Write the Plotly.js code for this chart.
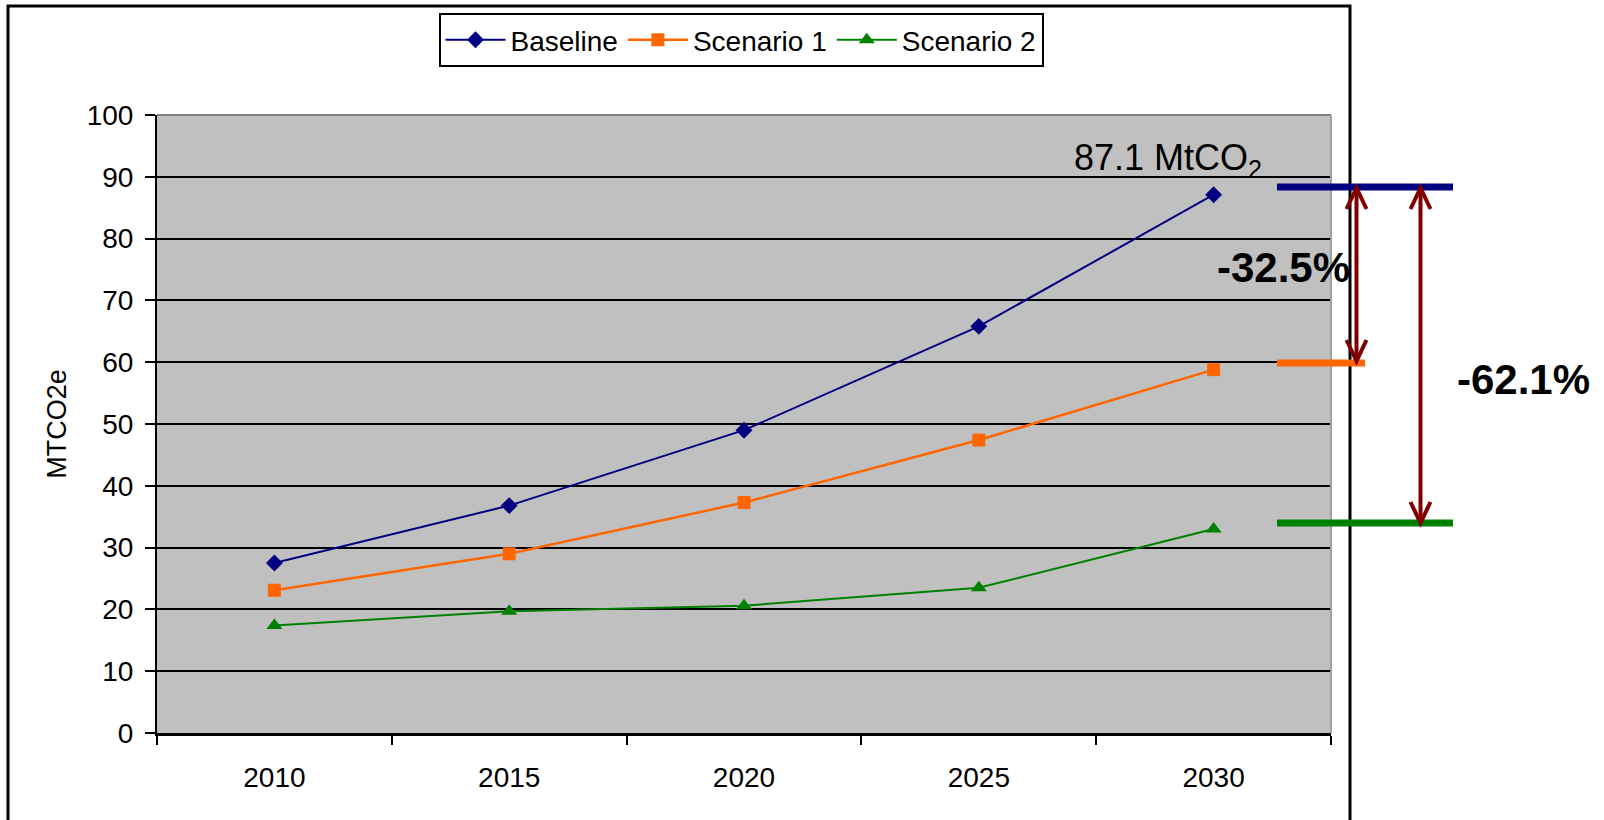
<!DOCTYPE html>
<html>
<head>
<meta charset="utf-8">
<script src="https://cdn.plot.ly/plotly-3.0.1.min.js"></script>
<style>html,body{margin:0;padding:0;background:#fff;}#chart{width:1604px;height:820px;}</style>
</head>
<body>
<div id="chart"></div>
<script>
const years = ['2010', '2015', '2020', '2025', '2030'];
const baseline = [27.5, 36.8, 49.0, 65.8, 87.1];
const scenario1 = [23.1, 29.0, 37.3, 47.4, 58.8];
const scenario2 = [17.4, 19.7, 20.6, 23.5, 33.0];
const seriesNames = ['Baseline', 'Scenario 1', 'Scenario 2'];
const yTicks = [0, 10, 20, 30, 40, 50, 60, 70, 80, 90, 100];
const endLabel = '87.1 MtCO<sub>2</sub>';
const changeLabels = ['-32.5%', '-62.1%'];

const W = 1604, H = 820;
const L = 157, R = 1331, T = 115, B = 733;
const px = x => (x - L) / (R - L);
const py = y => (B - y) / (B - T);
const FONT = 'Liberation Sans, Arial, sans-serif';

const traces = [
  {x: years, y: baseline, name: seriesNames[0], type: 'scatter', mode: 'lines+markers',
   line: {color: '#000080', width: 2}, marker: {symbol: 'diamond', size: 13, color: '#000080'}},
  {x: years, y: scenario1, name: seriesNames[1], type: 'scatter', mode: 'lines+markers',
   line: {color: '#FF6600', width: 2.5}, marker: {symbol: 'square', size: 13, color: '#FF6600'}},
  {x: years, y: scenario2, name: seriesNames[2], type: 'scatter', mode: 'lines+markers',
   line: {color: '#008000', width: 2}, marker: {symbol: 'triangle-up', size: 14, color: '#008000'}}
];

const red = '#800000';
function arrow(x, y1, y2) {
  const hw = 10, hl = 21;
  return [
    {type: 'line', xref: 'paper', yref: 'paper', x0: px(x), x1: px(x), y0: py(y1), y1: py(y2), line: {color: red, width: 4}},
    {type: 'path', xref: 'paper', yref: 'paper',
     path: `M${px(x - hw)},${py(y1 + hl)} L${px(x)},${py(y1)} L${px(x + hw)},${py(y1 + hl)}`, line: {color: red, width: 4}},
    {type: 'path', xref: 'paper', yref: 'paper',
     path: `M${px(x - hw)},${py(y2 - hl)} L${px(x)},${py(y2)} L${px(x + hw)},${py(y2 - hl)}`, line: {color: red, width: 4}}
  ];
}

const shapes = [
  {type: 'path', xref: 'paper', yref: 'paper', layer: 'above',
   path: `M${px(8)},${py(840)} L${px(8)},${py(6)} L${px(1350)},${py(6)} L${px(1350)},${py(840)}`,
   line: {color: '#000000', width: 3}},
  {type: 'line', xref: 'paper', yref: 'paper', x0: 0, x1: 1, y0: 1, y1: 1, line: {color: '#808080', width: 2}, layer: 'above'},
  {type: 'line', xref: 'paper', yref: 'paper', x0: 1, x1: 1, y0: 0, y1: 1, line: {color: '#A0A0A0', width: 2}, layer: 'above'},
  {type: 'line', xref: 'paper', yref: 'paper', x0: px(1277), x1: px(1453), y0: py(187), y1: py(187), line: {color: '#000080', width: 7}},
  {type: 'line', xref: 'paper', yref: 'paper', x0: px(1277), x1: px(1365), y0: py(363), y1: py(363), line: {color: '#FF6600', width: 7}},
  {type: 'line', xref: 'paper', yref: 'paper', x0: px(1277), x1: px(1453), y0: py(523), y1: py(523), line: {color: '#008000', width: 7}},
  ...arrow(1356.5, 188, 361),
  ...arrow(1420.5, 188, 523)
];

const annotations = [
  {text: endLabel, xref: 'paper', yref: 'paper', x: px(1168), y: py(160), xanchor: 'center', yanchor: 'middle',
   showarrow: false, font: {family: FONT, size: 36, color: '#000000'}},
  {text: '<b>' + changeLabels[0] + '</b>', xref: 'paper', yref: 'paper', x: px(1283), y: py(267), xanchor: 'center', yanchor: 'middle',
   showarrow: false, font: {family: FONT, size: 42, color: '#000000'}},
  {text: '<b>' + changeLabels[1] + '</b>', xref: 'paper', yref: 'paper', x: px(1523), y: py(379), xanchor: 'center', yanchor: 'middle',
   showarrow: false, font: {family: FONT, size: 42, color: '#000000'}}
];

const layout = {
  width: W, height: H,
  margin: {l: L, r: W - R, t: T, b: H - B, pad: 0},
  paper_bgcolor: '#FFFFFF',
  plot_bgcolor: '#C0C0C0',
  font: {family: FONT, size: 28, color: '#000000'},
  showlegend: true,
  legend: {orientation: 'h', x: px(741), y: py(13), xanchor: 'center', yanchor: 'top',
           itemwidth: 60,
           bgcolor: '#FFFFFF', bordercolor: '#000000', borderwidth: 2,
           font: {family: FONT, size: 28, color: '#000000'}},
  xaxis: {type: 'category', range: [-0.5, 4.5], tickson: 'boundaries', ticks: 'outside', ticklen: 9, tickwidth: 2,
          tickcolor: '#000000', showline: true, linecolor: '#000000', linewidth: 3, showgrid: false,
          ticklabelstandoff: 17, tickfont: {family: FONT, size: 28, color: '#000000'}, fixedrange: true},
  yaxis: {range: [0, 100], tickvals: yTicks, ticks: 'outside', ticklen: 10, tickwidth: 2, tickcolor: '#000000',
          showline: true, linecolor: '#000000', linewidth: 2, showgrid: true, gridcolor: '#000000', gridwidth: 2,
          zeroline: false, ticklabelstandoff: 6, tickfont: {family: FONT, size: 28, color: '#000000'},
          title: {text: 'MTCO2e', font: {family: FONT, size: 27, color: '#000000'}, standoff: 12}, fixedrange: true},
  shapes: shapes,
  annotations: annotations
};

Plotly.newPlot('chart', traces, layout, {displayModeBar: false, staticPlot: true});
</script>
</body>
</html>
